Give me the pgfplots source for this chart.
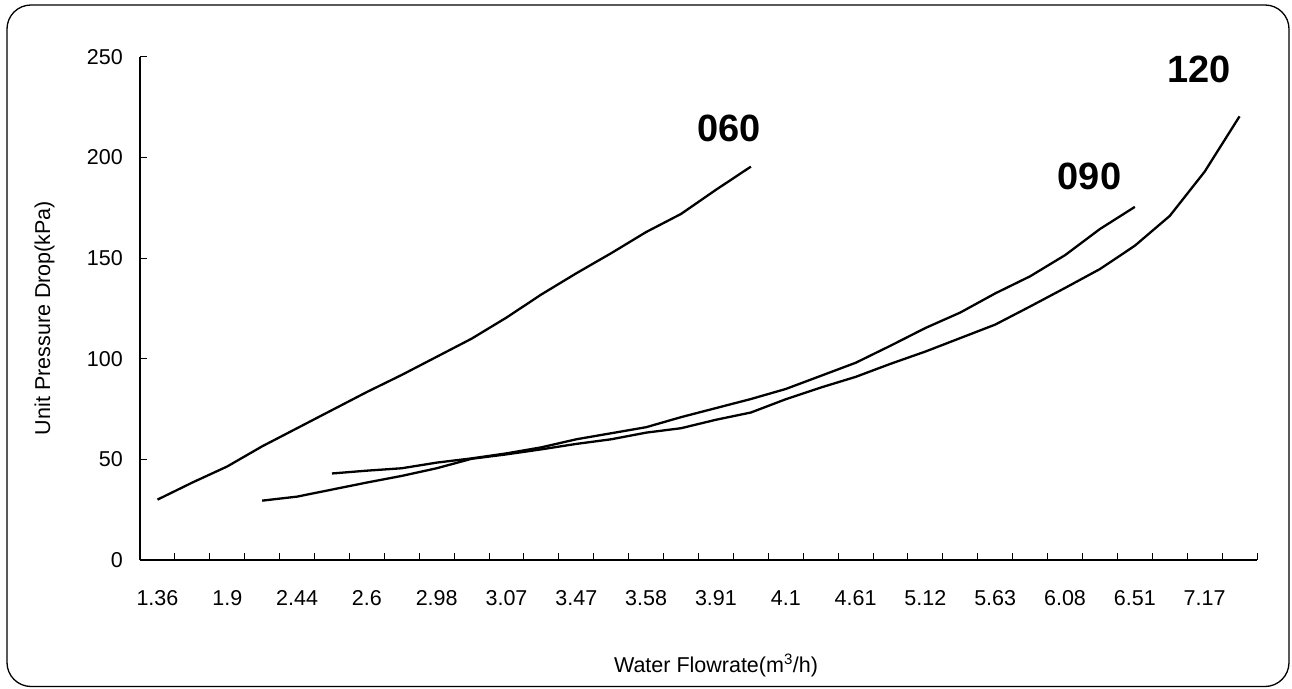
\documentclass[border=0pt]{standalone}
\usepackage{fontspec}
\setmainfont{Liberation Sans}
\usepackage{pgfplots}
\pgfplotsset{compat=1.18}
\begin{document}
\begin{tikzpicture}[x=1pt,y=1pt]
\useasboundingbox (0,0) rectangle (1292,688);
\fill[white] (0,0) rectangle (1292,688);
\draw[line width=1.3pt, rounded corners=24pt] (7,1.5) rectangle (1289,683);
\begin{axis}[
  at={(140pt,128pt)}, anchor=south west,
  scale only axis, width=1117pt, height=503pt,
  xmin=-0.5, xmax=31.5, ymin=0, ymax=250,
  axis lines*=left,
  axis line style={line width=1.2pt, -},
  xtick={-0.5,0.5,...,31.5},
  xticklabels={},
  extra x ticks={0,2,...,30},
  extra x tick labels={1.36,1.9,2.44,2.6,2.98,3.07,3.47,3.58,3.91,4.1,4.61,5.12,5.63,6.08,6.51,7.17},
  extra x tick style={major tick length=0pt, xticklabel style={anchor=base, inner sep=0pt, yshift=-45.5pt}},
  ytick={0,50,...,250},
  major tick length=6.5pt,
  tick align=inside,
  tick style={line width=1pt, black},
  tick label style={font=\fontsize{21.5}{25}\selectfont},
  yticklabel style={anchor=east, inner sep=0pt, xshift=-17pt},
  /pgf/number format/assume math mode=true,
  clip=false,
]
\addplot[black, line width=2.3pt, line join=round, mark=none] coordinates {
(0,30) (1,38.5) (2,46.5) (3,56.5) (4,65.5) (5,74.5) (6,83.5) (7,92) (8,101) (9,110) (10,120.5) (11,132) (12,142.5) (13,152.5) (14,163) (15,172) (16,184) (17,195.5)};
\addplot[black, line width=2.3pt, line join=round, mark=none] coordinates {
(5,43) (6,44.4) (7,45.6) (8,48.4) (9,50.5) (10,53) (11,56) (12,60) (13,63) (14,66) (15,71) (16,75.5) (17,80) (18,85) (19,91.5) (20,98) (21,106.5) (22,115.3) (23,123) (24,132.5) (25,141) (26,151.5) (27,164.5) (28,175.5)};
\addplot[black, line width=2.3pt, line join=round, mark=none] coordinates {
(3,29.5) (4,31.5) (5,35) (6,38.5) (7,41.8) (8,45.6) (9,50.3) (10,52.5) (11,55) (12,57.7) (13,60) (14,63.3) (15,65.5) (16,69.7) (17,73.3) (18,79.9) (19,85.7) (20,91) (21,97.5) (22,103.6) (23,110.3) (24,117) (25,126) (26,135.2) (27,144.6) (28,156.2) (29,171) (30,193) (31,220.5)};
\node[font=\fontsize{38}{44}\selectfont\bfseries] at (axis cs:16.38,214.5) {060};
\node[font=\fontsize{38}{44}\selectfont\bfseries] at (axis cs:26.7,190.7) {090};
\node[font=\fontsize{38}{44}\selectfont\bfseries] at (axis cs:29.84,244) {120};
\end{axis}
\node[font=\fontsize{21.5}{25}\selectfont, anchor=base] at (716,16) {Water Flowrate(m\textsuperscript{3}/h)};
\node[font=\fontsize{21.5}{25}\selectfont, rotate=90, anchor=base] at (50,370) {Unit Pressure Drop(kPa)};
\end{tikzpicture}
\end{document}
